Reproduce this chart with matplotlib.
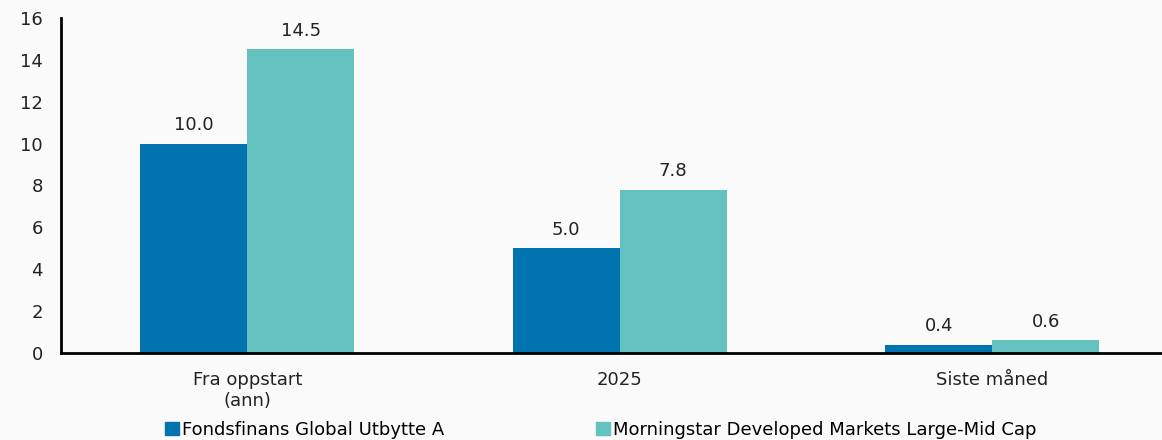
import numpy as np
import matplotlib.pyplot as plt
from matplotlib.patches import Patch

# data ---------------------------------------------------------------
categories = ["Fra oppstart\n(ann)", "2025", "Siste måned"]
fund_name = "Fondsfinans Global Utbytte A"
index_name = "Morningstar Developed Markets Large-Mid Cap"
fund_vals = [10.0, 5.0, 0.4]
index_vals = [14.5, 7.8, 0.6]
yticks = [0, 2, 4, 6, 8, 10, 12, 14, 16]

dark = "#0173AF"
light = "#63C2C0"
bg = "#FAFAFA"

plt.rcParams['font.family'] = ['DejaVu Sans']

fig = plt.figure(figsize=(11.62, 4.4), dpi=100, facecolor=bg)
ax = fig.add_axes([0.0525, 0.198, 0.9617, 0.761], facecolor=bg)

x = np.arange(len(categories))
w = 0.287
b1 = ax.bar(x - w/2, fund_vals, w, color=dark, label=fund_name)
b2 = ax.bar(x + w/2, index_vals, w, color=light, label=index_name)

for bars in (b1, b2):
    for r in bars:
        ax.annotate(f"{r.get_height():.1f}", (r.get_x() + r.get_width()/2, r.get_height()),
                    xytext=(0, 7), textcoords="offset points", ha="center", va="bottom",
                    fontsize=13, color="#222222")

ax.set_xlim(-0.5, 2.5)
ax.set_ylim(0, 16)
ax.set_yticks(yticks)
ax.set_xticks(x)
ax.set_xticklabels(categories, fontsize=13, color="#222222", linespacing=1.25)
ax.tick_params(axis="y", length=0, pad=13, labelsize=13, labelcolor="#222222")
ax.tick_params(axis="x", length=0, pad=13)
for s in ("top", "right"):
    ax.spines[s].set_visible(False)
for s in ("left", "bottom"):
    ax.spines[s].set_linewidth(2)
    ax.spines[s].set_color("black")

handles = [Patch(color=dark), Patch(color=light)]
fig.legend(handles, [fund_name, index_name], loc="lower left", bbox_to_anchor=(0.128, -0.035),
           ncol=2, frameon=False, fontsize=13, handlelength=0.75, handleheight=0.75,
           handletextpad=0.2, columnspacing=8.4)

fig.savefig("out.png", dpi=100, facecolor=bg)
